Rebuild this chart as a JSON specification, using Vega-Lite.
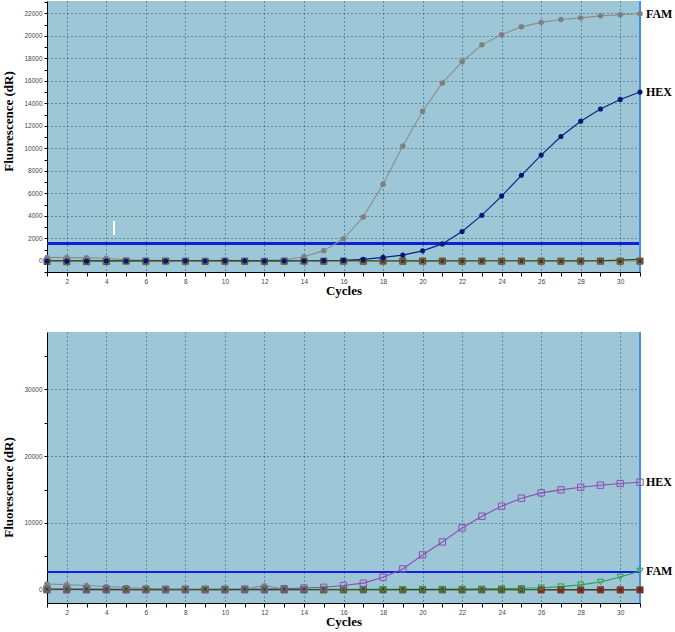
{
  "$schema": "https://vega.github.io/schema/vega-lite/v6.json",
  "padding": {"left": 2, "top": 0, "right": 0, "bottom": 0},
  "background": "white",
  "config": {
    "view": {"fill": "#9dc7d6", "stroke": null},
    "axis": {
      "domainColor": "black", "domainWidth": 1,
      "tickColor": "black", "tickSize": 3, "tickWidth": 1,
      "labelFont": "Liberation Sans", "labelFontSize": 6.5, "labelColor": "#444",
      "titleFont": "Liberation Serif", "titleFontWeight": "bold", "titleFontSize": 13, "titleColor": "black",
      "gridColor": "#2c4653", "gridDash": [1, 3], "gridWidth": 1
    }
  },
  "resolve": {"scale": {"color": "independent"}},
  "datasets": {
    "top": [
      {"series":"FAM","cycle":1,"value":300},{"series":"FAM","cycle":2,"value":280},{"series":"FAM","cycle":3,"value":260},{"series":"FAM","cycle":4,"value":220},{"series":"FAM","cycle":5,"value":80},{"series":"FAM","cycle":6,"value":40},{"series":"FAM","cycle":7,"value":30},{"series":"FAM","cycle":8,"value":20},{"series":"FAM","cycle":9,"value":20},{"series":"FAM","cycle":10,"value":30},{"series":"FAM","cycle":11,"value":20},{"series":"FAM","cycle":12,"value":30},{"series":"FAM","cycle":13,"value":80},{"series":"FAM","cycle":14,"value":350},{"series":"FAM","cycle":15,"value":900},{"series":"FAM","cycle":16,"value":1950},{"series":"FAM","cycle":17,"value":3900},{"series":"FAM","cycle":18,"value":6800},{"series":"FAM","cycle":19,"value":10200},{"series":"FAM","cycle":20,"value":13300},{"series":"FAM","cycle":21,"value":15800},{"series":"FAM","cycle":22,"value":17700},{"series":"FAM","cycle":23,"value":19200},{"series":"FAM","cycle":24,"value":20100},{"series":"FAM","cycle":25,"value":20800},{"series":"FAM","cycle":26,"value":21200},{"series":"FAM","cycle":27,"value":21450},{"series":"FAM","cycle":28,"value":21600},{"series":"FAM","cycle":29,"value":21780},{"series":"FAM","cycle":30,"value":21880},{"series":"FAM","cycle":31,"value":21960},
      {"series":"HEX","cycle":1,"value":-30},{"series":"HEX","cycle":2,"value":-20},{"series":"HEX","cycle":3,"value":-20},{"series":"HEX","cycle":4,"value":-10},{"series":"HEX","cycle":5,"value":-20},{"series":"HEX","cycle":6,"value":-10},{"series":"HEX","cycle":7,"value":-20},{"series":"HEX","cycle":8,"value":-10},{"series":"HEX","cycle":9,"value":-20},{"series":"HEX","cycle":10,"value":-10},{"series":"HEX","cycle":11,"value":-10},{"series":"HEX","cycle":12,"value":-20},{"series":"HEX","cycle":13,"value":-10},{"series":"HEX","cycle":14,"value":0},{"series":"HEX","cycle":15,"value":10},{"series":"HEX","cycle":16,"value":30},{"series":"HEX","cycle":17,"value":120},{"series":"HEX","cycle":18,"value":300},{"series":"HEX","cycle":19,"value":500},{"series":"HEX","cycle":20,"value":880},{"series":"HEX","cycle":21,"value":1500},{"series":"HEX","cycle":22,"value":2600},{"series":"HEX","cycle":23,"value":4050},{"series":"HEX","cycle":24,"value":5750},{"series":"HEX","cycle":25,"value":7600},{"series":"HEX","cycle":26,"value":9400},{"series":"HEX","cycle":27,"value":11050},{"series":"HEX","cycle":28,"value":12400},{"series":"HEX","cycle":29,"value":13500},{"series":"HEX","cycle":30,"value":14350},{"series":"HEX","cycle":31,"value":15000},
      {"series":"NTC1","cycle":1,"value":-60},{"series":"NTC1","cycle":2,"value":-80},{"series":"NTC1","cycle":3,"value":-70},{"series":"NTC1","cycle":4,"value":-60},{"series":"NTC1","cycle":5,"value":-30},{"series":"NTC1","cycle":6,"value":-40},{"series":"NTC1","cycle":7,"value":-30},{"series":"NTC1","cycle":8,"value":-40},{"series":"NTC1","cycle":9,"value":-50},{"series":"NTC1","cycle":10,"value":-40},{"series":"NTC1","cycle":11,"value":-40},{"series":"NTC1","cycle":12,"value":-50},{"series":"NTC1","cycle":13,"value":-40},{"series":"NTC1","cycle":14,"value":-30},{"series":"NTC1","cycle":15,"value":-40},{"series":"NTC1","cycle":16,"value":-30},{"series":"NTC1","cycle":17,"value":-40},{"series":"NTC1","cycle":18,"value":-30},{"series":"NTC1","cycle":19,"value":-40},{"series":"NTC1","cycle":20,"value":-30},{"series":"NTC1","cycle":21,"value":-30},{"series":"NTC1","cycle":22,"value":-40},{"series":"NTC1","cycle":23,"value":-30},{"series":"NTC1","cycle":24,"value":-40},{"series":"NTC1","cycle":25,"value":-30},{"series":"NTC1","cycle":26,"value":-40},{"series":"NTC1","cycle":27,"value":-40},{"series":"NTC1","cycle":28,"value":-30},{"series":"NTC1","cycle":29,"value":-30},{"series":"NTC1","cycle":30,"value":-40},{"series":"NTC1","cycle":31,"value":-30},
      {"series":"NTC2","cycle":1,"value":0},{"series":"NTC2","cycle":4,"value":-10},{"series":"NTC2","cycle":8,"value":0},{"series":"NTC2","cycle":12,"value":-10},{"series":"NTC2","cycle":16,"value":0},{"series":"NTC2","cycle":20,"value":-10},{"series":"NTC2","cycle":24,"value":0},{"series":"NTC2","cycle":28,"value":-10},{"series":"NTC2","cycle":29,"value":0},{"series":"NTC2","cycle":30,"value":60},{"series":"NTC2","cycle":31,"value":120}
    ],
    "bottom": [
      {"series":"HEX","cycle":1,"value":100},{"series":"HEX","cycle":2,"value":90},{"series":"HEX","cycle":3,"value":80},{"series":"HEX","cycle":4,"value":80},{"series":"HEX","cycle":5,"value":70},{"series":"HEX","cycle":6,"value":70},{"series":"HEX","cycle":7,"value":60},{"series":"HEX","cycle":8,"value":60},{"series":"HEX","cycle":9,"value":60},{"series":"HEX","cycle":10,"value":70},{"series":"HEX","cycle":11,"value":80},{"series":"HEX","cycle":12,"value":100},{"series":"HEX","cycle":13,"value":150},{"series":"HEX","cycle":14,"value":250},{"series":"HEX","cycle":15,"value":350},{"series":"HEX","cycle":16,"value":620},{"series":"HEX","cycle":17,"value":980},{"series":"HEX","cycle":18,"value":1860},{"series":"HEX","cycle":19,"value":3100},{"series":"HEX","cycle":20,"value":5200},{"series":"HEX","cycle":21,"value":7150},{"series":"HEX","cycle":22,"value":9250},{"series":"HEX","cycle":23,"value":11000},{"series":"HEX","cycle":24,"value":12500},{"series":"HEX","cycle":25,"value":13700},{"series":"HEX","cycle":26,"value":14500},{"series":"HEX","cycle":27,"value":14950},{"series":"HEX","cycle":28,"value":15350},{"series":"HEX","cycle":29,"value":15650},{"series":"HEX","cycle":30,"value":15900},{"series":"HEX","cycle":31,"value":16100},
      {"series":"FAM","cycle":1,"value":40},{"series":"FAM","cycle":2,"value":40},{"series":"FAM","cycle":3,"value":30},{"series":"FAM","cycle":4,"value":30},{"series":"FAM","cycle":5,"value":30},{"series":"FAM","cycle":6,"value":20},{"series":"FAM","cycle":7,"value":20},{"series":"FAM","cycle":8,"value":20},{"series":"FAM","cycle":9,"value":20},{"series":"FAM","cycle":10,"value":20},{"series":"FAM","cycle":11,"value":30},{"series":"FAM","cycle":12,"value":30},{"series":"FAM","cycle":13,"value":30},{"series":"FAM","cycle":14,"value":40},{"series":"FAM","cycle":15,"value":40},{"series":"FAM","cycle":16,"value":50},{"series":"FAM","cycle":17,"value":50},{"series":"FAM","cycle":18,"value":60},{"series":"FAM","cycle":19,"value":60},{"series":"FAM","cycle":20,"value":70},{"series":"FAM","cycle":21,"value":80},{"series":"FAM","cycle":22,"value":100},{"series":"FAM","cycle":23,"value":120},{"series":"FAM","cycle":24,"value":150},{"series":"FAM","cycle":25,"value":200},{"series":"FAM","cycle":26,"value":280},{"series":"FAM","cycle":27,"value":450},{"series":"FAM","cycle":28,"value":720},{"series":"FAM","cycle":29,"value":1150},{"series":"FAM","cycle":30,"value":1900},{"series":"FAM","cycle":31,"value":2800},
      {"series":"GRY","cycle":1,"value":850},{"series":"GRY","cycle":2,"value":750},{"series":"GRY","cycle":3,"value":620},{"series":"GRY","cycle":4,"value":480},{"series":"GRY","cycle":5,"value":320},{"series":"GRY","cycle":6,"value":220},{"series":"GRY","cycle":7,"value":120},{"series":"GRY","cycle":8,"value":100},{"series":"GRY","cycle":9,"value":80},{"series":"GRY","cycle":10,"value":80},{"series":"GRY","cycle":11,"value":100},{"series":"GRY","cycle":12,"value":600},{"series":"GRY","cycle":13,"value":100},
      {"series":"NTC1","cycle":1,"value":-30},{"series":"NTC1","cycle":2,"value":-40},{"series":"NTC1","cycle":3,"value":-30},{"series":"NTC1","cycle":4,"value":-30},{"series":"NTC1","cycle":5,"value":-40},{"series":"NTC1","cycle":6,"value":-30},{"series":"NTC1","cycle":7,"value":-30},{"series":"NTC1","cycle":8,"value":-20},{"series":"NTC1","cycle":9,"value":-30},{"series":"NTC1","cycle":10,"value":-30},{"series":"NTC1","cycle":11,"value":-20},{"series":"NTC1","cycle":12,"value":-30},{"series":"NTC1","cycle":13,"value":-30},{"series":"NTC1","cycle":14,"value":-20},{"series":"NTC1","cycle":15,"value":-30},{"series":"NTC1","cycle":16,"value":-30},{"series":"NTC1","cycle":17,"value":-20},{"series":"NTC1","cycle":18,"value":-30},{"series":"NTC1","cycle":19,"value":-30},{"series":"NTC1","cycle":20,"value":-20},{"series":"NTC1","cycle":21,"value":-30},{"series":"NTC1","cycle":22,"value":-30},{"series":"NTC1","cycle":23,"value":-20},{"series":"NTC1","cycle":24,"value":-30},{"series":"NTC1","cycle":25,"value":-30},
      {"series":"NTC3","cycle":26,"value":-30},{"series":"NTC3","cycle":27,"value":-40},{"series":"NTC3","cycle":28,"value":-40},{"series":"NTC3","cycle":29,"value":-30},{"series":"NTC3","cycle":30,"value":-40},{"series":"NTC3","cycle":31,"value":-40},
      {"series":"NTC2","cycle":1,"value":60},{"series":"NTC2","cycle":4,"value":0},{"series":"NTC2","cycle":8,"value":-10},{"series":"NTC2","cycle":12,"value":0},{"series":"NTC2","cycle":16,"value":-10},{"series":"NTC2","cycle":20,"value":0},{"series":"NTC2","cycle":24,"value":-10},{"series":"NTC2","cycle":28,"value":0},{"series":"NTC2","cycle":31,"value":-10}
    ]
  },
  "spacing": 60,
  "bounds": "flush",
  "vconcat": [
    {
      "width": 593, "height": 271,
      "data": {"name": "top"},
      "encoding": {
        "x": {"field": "cycle", "type": "quantitative",
          "scale": {"domain": [1, 31], "nice": false, "zero": false},
          "axis": {"title": "Cycles", "values": [1,2,3,4,5,6,7,8,9,10,11,12,13,14,15,16,17,18,19,20,21,22,23,24,25,26,27,28,29,30,31],
            "format": "d", "labelExpr": "datum.value % 2 === 0 ? datum.label : ''",
            "grid": true, "gridOpacity": {"condition": {"test": "datum.value % 2 === 0 && datum.value < 31", "value": 1}, "value": 0},
            "tickSize": 4, "labelPadding": 2, "titlePadding": 0}},
        "y": {"field": "value", "type": "quantitative",
          "scale": {"domain": [-1000, 23100], "nice": false, "zero": false},
          "axis": {"title": "Fluorescence (dR)", "values": [-1000,0,1000,2000,3000,4000,5000,6000,7000,8000,9000,10000,11000,12000,13000,14000,15000,16000,17000,18000,19000,20000,21000,22000,23000],
            "format": "d", "labelExpr": "datum.value >= 0 && datum.value % 2000 === 0 ? datum.label : ''",
            "grid": true, "gridOpacity": {"condition": {"test": "datum.value > 0 && datum.value % 2000 === 0", "value": 1}, "value": 0},
            "labelPadding": 2, "titlePadding": 8, "titleY": 120}}
      },
      "layer": [
        {"mark": {"type": "rule", "color": "#1020d8", "strokeWidth": 1.6},
          "encoding": {"x": null, "y": {"datum": 1530, "type": "quantitative"}}},
        {"mark": {"type": "rule", "color": "white", "strokeWidth": 1.5},
          "encoding": {"x": {"datum": 4.4, "type": "quantitative"}, "y": {"datum": 2300, "type": "quantitative"}, "y2": {"datum": 3500}}},
        {"mark": {"type": "line", "strokeWidth": 1.1},
          "encoding": {"color": {"field": "series", "type": "nominal", "legend": null,
            "scale": {"domain": ["NTC1","NTC2","FAM","HEX"], "range": ["#c09068","#17502a","#8c8c8c","#0b1f8a"]}}}},
        {"mark": {"type": "rule", "color": "#3d8fe8", "strokeWidth": 2},
          "encoding": {"x": {"datum": 31, "type": "quantitative"}, "y": null}},
        {"transform": [{"filter": "datum.series === 'NTC1'"}],
          "mark": {"type": "point", "shape": "square", "filled": true, "fill": "#8a7d48", "stroke": "#4a3f22", "strokeWidth": 0.8, "size": 38, "opacity": 1}},
        {"transform": [{"filter": "datum.series === 'NTC1'"}],
          "mark": {"type": "point", "shape": "cross", "angle": 45, "filled": true, "fill": "#4a2f2a", "size": 22, "opacity": 1}},
        {"transform": [{"filter": "datum.series === 'FAM'"}],
          "mark": {"type": "point", "shape": "circle", "filled": true, "fill": "#7f7f7f", "size": 30, "opacity": 1}},
        {"transform": [{"filter": "datum.series === 'HEX'"}],
          "mark": {"type": "point", "shape": "circle", "filled": true, "fill": "#00167a", "size": 26, "opacity": 1}},
        {"data": {"values": [{"label": "FAM", "cycle": 31, "value": 21960}, {"label": "HEX", "cycle": 31, "value": 15000}]},
          "mark": {"type": "text", "align": "left", "baseline": "middle", "dx": 6, "font": "Liberation Serif", "fontWeight": "bold", "fontSize": 12, "color": "black"},
          "encoding": {"text": {"field": "label"}}}
      ]
    },
    {
      "width": 593, "height": 271,
      "data": {"name": "bottom"},
      "encoding": {
        "x": {"field": "cycle", "type": "quantitative",
          "scale": {"domain": [1, 31], "nice": false, "zero": false},
          "axis": {"title": "Cycles", "values": [1,2,3,4,5,6,7,8,9,10,11,12,13,14,15,16,17,18,19,20,21,22,23,24,25,26,27,28,29,30,31],
            "format": "d", "labelExpr": "datum.value % 2 === 0 ? datum.label : ''",
            "grid": true, "gridOpacity": {"condition": {"test": "datum.value % 2 === 0 && datum.value < 31", "value": 1}, "value": 0},
            "tickSize": 4, "labelPadding": 2, "titlePadding": 0}},
        "y": {"field": "value", "type": "quantitative",
          "scale": {"domain": [-2000, 38600], "nice": false, "zero": false},
          "axis": {"title": "Fluorescence (dR)", "values": [0,5000,10000,15000,20000,25000,30000,35000],
            "format": "d", "labelExpr": "datum.value % 10000 === 0 ? datum.label : ''",
            "grid": true, "gridOpacity": {"condition": {"test": "datum.value > 0 && datum.value % 10000 === 0", "value": 1}, "value": 0},
            "labelPadding": 2, "titlePadding": 8, "titleY": 155}}
      },
      "layer": [
        {"mark": {"type": "rule", "color": "#1020d8", "strokeWidth": 1.6},
          "encoding": {"x": null, "y": {"datum": 2600, "type": "quantitative"}}},
        {"mark": {"type": "line", "strokeWidth": 1.1},
          "encoding": {"color": {"field": "series", "type": "nominal", "legend": null,
            "scale": {"domain": ["NTC1","NTC3","NTC2","GRY","FAM","HEX"], "range": ["#c09068","#c0392b","#17502a","#8c8c8c","#2e9e4a","#8e4bb5"]}}}},
        {"mark": {"type": "rule", "color": "#3d8fe8", "strokeWidth": 2},
          "encoding": {"x": {"datum": 31, "type": "quantitative"}, "y": null}},
        {"transform": [{"filter": "datum.series === 'GRY'"}],
          "mark": {"type": "point", "shape": "circle", "filled": true, "fill": "#808080", "size": 30, "opacity": 1}},
        {"transform": [{"filter": "datum.series === 'NTC1'"}],
          "mark": {"type": "point", "shape": "square", "filled": true, "fill": "#8a7d48", "stroke": "#4a3f22", "strokeWidth": 0.8, "size": 38, "opacity": 1}},
        {"transform": [{"filter": "datum.series === 'NTC3'"}],
          "mark": {"type": "point", "shape": "square", "filled": true, "fill": "#c0392b", "stroke": "#6a1f18", "strokeWidth": 0.8, "size": 38, "opacity": 1}},
        {"transform": [{"filter": "datum.series === 'NTC1' || datum.series === 'NTC3'"}],
          "mark": {"type": "point", "shape": "cross", "angle": 45, "filled": true, "fill": "#4a2f2a", "size": 22, "opacity": 1}},
        {"transform": [{"filter": "datum.series === 'FAM'"}],
          "mark": {"type": "point", "shape": "triangle-down", "filled": false, "stroke": "#2e9e4a", "strokeWidth": 1, "size": 40, "opacity": 1}},
        {"transform": [{"filter": "datum.series === 'HEX'"}],
          "mark": {"type": "point", "shape": "square", "filled": false, "stroke": "#8e4bb5", "strokeWidth": 1, "size": 40, "opacity": 1}},
        {"data": {"values": [{"label": "HEX", "cycle": 31, "value": 16100}, {"label": "FAM", "cycle": 31, "value": 2800}]},
          "mark": {"type": "text", "align": "left", "baseline": "middle", "dx": 6, "font": "Liberation Serif", "fontWeight": "bold", "fontSize": 12, "color": "black"},
          "encoding": {"text": {"field": "label"}}}
      ]
    }
  ]
}
